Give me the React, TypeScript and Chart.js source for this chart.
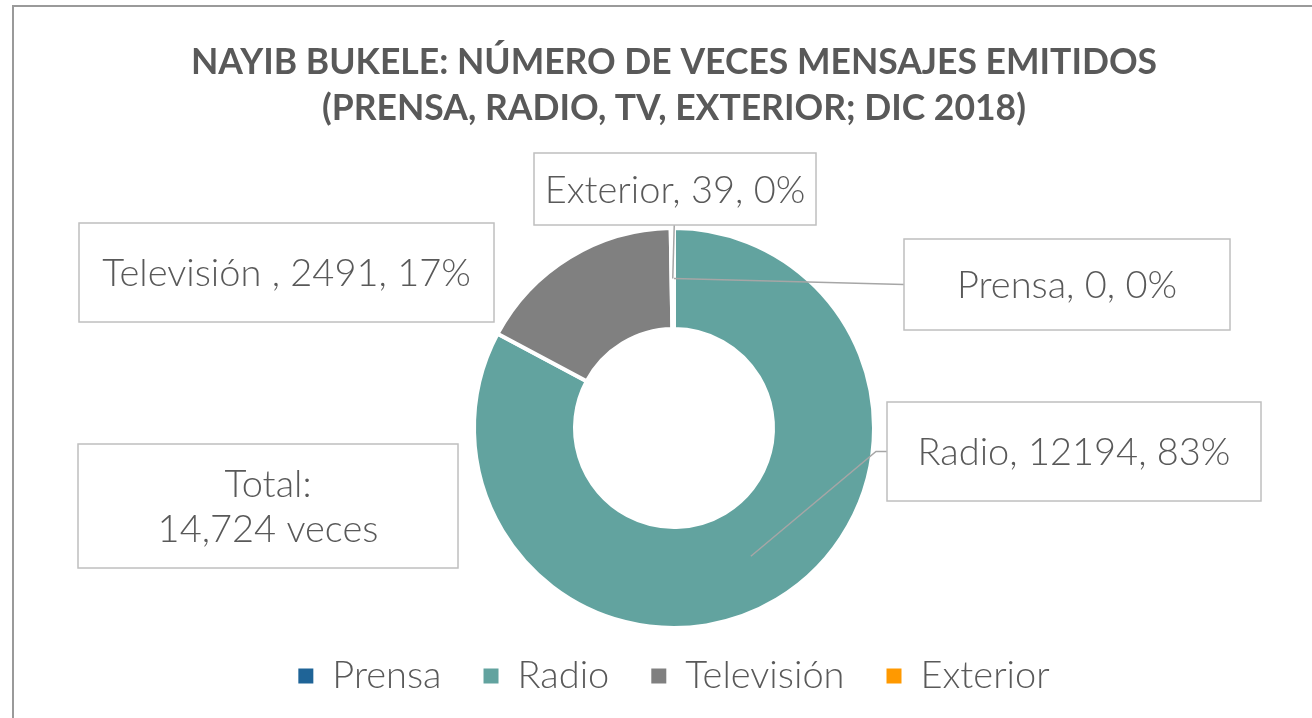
import React, { useEffect, useRef } from "react";
import { Chart, registerables } from "chart.js";

Chart.register(...registerables);

const titleLines = [
  "NAYIB BUKELE: NÚMERO DE VECES MENSAJES EMITIDOS",
  "(PRENSA, RADIO, TV, EXTERIOR; DIC 2018)",
];
const categories = ["Prensa", "Radio", "Televisión", "Exterior"];
const labelNames = ["Prensa", "Radio", "Televisión ", "Exterior"];
const values = [0, 12194, 2491, 39];
const colors = ["#1F6497", "#62A39F", "#808080", "#FF9900"];
const totalLabel = "Total:";
const totalUnit = "veces";

// label box layout (x, y, w, h) and leader style per slice
const labelBoxes = [
  { x: 904, y: 239, w: 326, h: 91, leader: "left" },
  { x: 887, y: 402, w: 374, h: 99, leader: "leftElbow" },
  { x: 79, y: 223, w: 415, h: 99, leader: "none" },
  { x: 534, y: 153, w: 282, h: 72, leader: "bottom" },
];
const totalBox = { x: 78, y: 444, w: 380, h: 124 };

const TEXT_COLOR = "#595959";
const BOX_BORDER = "#BFBFBF";
const LEADER = "#A6A6A6";
const FONT_FAMILY = 'Lato, "Noto Sans", sans-serif';
const LABEL_FONT_SIZE = 38;
const LABEL_FONT = `300 ${LABEL_FONT_SIZE}px ${FONT_FAMILY}`;

const labelPlugin = {
  id: "boxedLabels",
  afterDraw(chart: any) {
    const ctx = chart.ctx as CanvasRenderingContext2D;
    const meta = chart.getDatasetMeta(0);
    const total = values.reduce((a, b) => a + b, 0);
    ctx.save();
    // leader lines
    ctx.strokeStyle = LEADER;
    ctx.lineWidth = 1.5;
    meta.data.forEach((arc: any, i: number) => {
      const box = labelBoxes[i];
      if (!box || box.leader === "none") return;
      const p = arc.getProps(["x", "y", "startAngle", "endAngle", "innerRadius", "outerRadius"], true);
      const mid = (p.startAngle + p.endAngle) / 2;
      const r = (p.innerRadius + p.outerRadius) / 2;
      const ax = p.x + Math.cos(mid) * r;
      const ay = p.y + Math.sin(mid) * r;
      ctx.beginPath();
      if (box.leader === "left") {
        ctx.moveTo(box.x, box.y + box.h / 2);
        ctx.lineTo(ax, ay);
      } else if (box.leader === "leftElbow") {
        ctx.moveTo(box.x, box.y + box.h / 2);
        ctx.lineTo(box.x - 11, box.y + box.h / 2);
        ctx.lineTo(ax, ay);
      } else if (box.leader === "bottom") {
        ctx.moveTo(ax + 1.5, box.y + box.h);
        ctx.lineTo(ax, ay);
      }
      ctx.stroke();
    });
    // boxes + text
    const drawBox = (b: { x: number; y: number; w: number; h: number }, lines: string[], lh: number) => {
      ctx.fillStyle = "#FFFFFF";
      ctx.fillRect(b.x, b.y, b.w, b.h);
      ctx.strokeStyle = BOX_BORDER;
      ctx.lineWidth = 1.5;
      ctx.strokeRect(b.x, b.y, b.w, b.h);
      ctx.fillStyle = TEXT_COLOR;
      ctx.font = LABEL_FONT;
      ctx.textAlign = "center";
      ctx.textBaseline = "alphabetic";
      const cap = LABEL_FONT_SIZE * 0.72;
      const n = lines.length;
      lines.forEach((t, k) => {
        const cy = b.y + b.h / 2 + (k - (n - 1) / 2) * lh;
        ctx.fillText(t, b.x + b.w / 2, cy + cap / 2);
      });
    };
    values.forEach((v, i) => {
      const pct = total > 0 ? Math.round((v / total) * 100) : 0;
      drawBox(labelBoxes[i], [`${labelNames[i]}, ${v}, ${pct}%`], 0);
    });
    drawBox(totalBox, [totalLabel, `${total.toLocaleString("en-US")} ${totalUnit}`], 45);
    ctx.restore();
  },
};

export default function App() {
  const ref = useRef<HTMLCanvasElement | null>(null);
  useEffect(() => {
    if (!ref.current) return;
    const baseGen = (Chart as any).overrides.doughnut.plugins.legend.labels.generateLabels;
    const chart = new Chart(ref.current, {
      type: "doughnut",
      data: {
        labels: categories,
        datasets: [
          {
            data: values,
            backgroundColor: colors,
            borderColor: "#FFFFFF",
            borderWidth: 4,
            radius: 200,
            cutout: "49.5%",
          } as any,
        ],
      },
      options: {
        responsive: false,
        animation: false,
        devicePixelRatio: 1,
        layout: { padding: { left: 36, right: 0, top: 0, bottom: 13 } },
        plugins: {
          tooltip: { enabled: false },
          title: {
            display: true,
            text: titleLines,
            color: TEXT_COLOR,
            font: { family: FONT_FAMILY, size: 35.5, weight: "bold", lineHeight: 1.31 },
            padding: { top: 39, bottom: 109 },
          },
          legend: {
            display: true,
            position: "bottom",
            labels: {
              color: TEXT_COLOR,
              font: { family: FONT_FAMILY, size: 38, weight: "300" as any },
              boxWidth: 15,
              boxHeight: 15,
              padding: 42,
              generateLabels: (c: any) =>
                baseGen(c).map((l: any) => ({ ...l, lineWidth: 0, strokeStyle: "rgba(0,0,0,0)" })),
            },
          },
        },
      },
      plugins: [labelPlugin],
    });
    return () => chart.destroy();
  }, []);
  return (
    <div style={{ position: "fixed", left: 0, top: 0, width: 1312, height: 718, background: "#FFFFFF", overflow: "hidden" }}>
      <div
        style={{
          position: "absolute",
          left: 12,
          top: 5,
          width: 1400,
          height: 800,
          borderLeft: "2px solid #9A9A9A",
          borderTop: "2px solid #9A9A9A",
        }}
      />
      <canvas ref={ref} width={1312} height={718} style={{ position: "absolute", left: 0, top: 0, display: "block" }} />
    </div>
  );
}
